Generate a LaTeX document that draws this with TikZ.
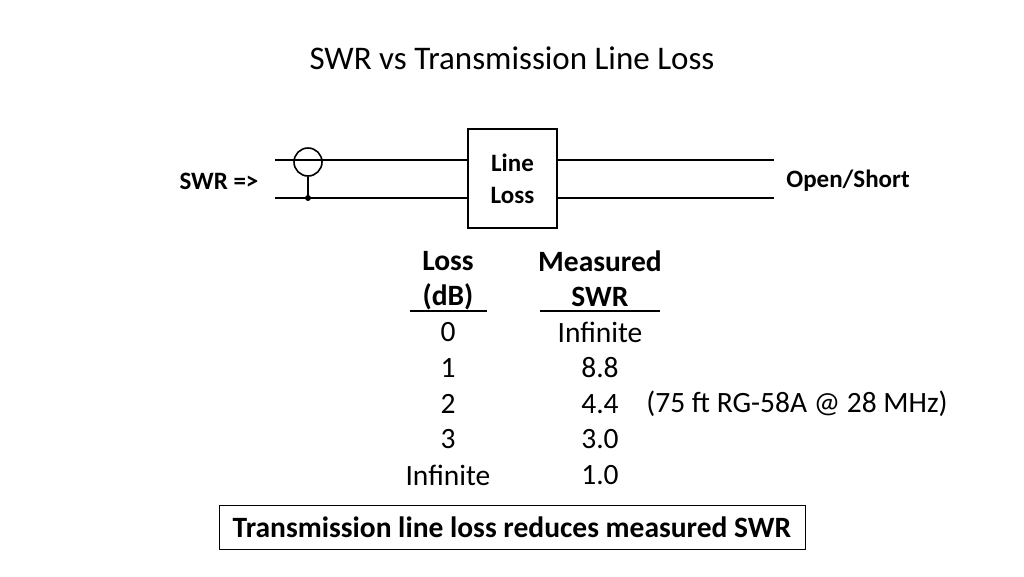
\documentclass[tikz,border=0pt]{standalone}
\usepackage{fontspec}
\setmainfont{Carlito}
\begin{document}
\begin{tikzpicture}[x=1pt,y=-1pt,
  wire/.style={line width=1.6pt},
  txt/.style={inner sep=0pt,font=\fontsize{29.5}{31}\selectfont},
  lbl/.style={inner sep=0pt,font=\bfseries\fontsize{25}{27}\selectfont},
  hd/.style={inner sep=0pt,font=\bfseries\fontsize{29.5}{31}\selectfont}]
\useasboundingbox (0,0) rectangle (1024,576);
\node[inner sep=0pt,font=\fontsize{33}{35}\selectfont] (title) at (512,58) {SWR vs Transmission Line Loss};
\node[draw,line width=1.6pt,minimum width=89pt,minimum height=99pt,inner sep=0pt,align=center,
  font=\bfseries\fontsize{25}{32}\selectfont] (box) at (512.5,178.5) {Line\\Loss};
\coordinate (tl) at (275,160); \coordinate (bl) at (275,198);
\coordinate (tr) at (774,160); \coordinate (br) at (774,198);
\draw[wire] (tl) -- (box.west |- tl);
\draw[wire] (bl) -- (box.west |- bl);
\draw[wire] (box.east |- tr) -- (tr);
\draw[wire] (box.east |- br) -- (br);
\node[draw,circle,line width=1.6pt,minimum size=28pt,inner sep=0pt] (meter) at (308,162) {};
\coordinate (dot) at (308,198);
\draw[wire] (meter.south) -- (dot);
\fill (dot) circle (3pt);
\node[lbl] (swr) at (219,181) {SWR =>};
\node[lbl] (os) at (848,181) {Open/Short};
\node[hd] (h1) at (448,261) {Loss};
\node[hd] (h2) at (448,297) {(dB)};
\node[hd] (h3) at (600,261) {Measured};
\node[hd] (h4) at (600,297) {SWR};
\coordinate (u1a) at (410,311); \coordinate (u1b) at (487,311);
\coordinate (u2a) at (540,311); \coordinate (u2b) at (660,311);
\draw[line width=1.2pt] (u1a) -- (u1b);
\draw[line width=1.2pt] (u2a) -- (u2b);
\node[txt] (a0) at (448,332) {0};
\node[txt] (a1) at (448,368) {1};
\node[txt] (a2) at (448,404) {2};
\node[txt] (a3) at (448,439) {3};
\node[txt] (a4) at (448,475) {Infinite};
\node[txt] (b0) at (600,332) {Infinite};
\node[txt] (b1) at (600,368) {8.8};
\node[txt] (b2) at (600,404) {4.4};
\node[txt] (b3) at (600,439) {3.0};
\node[txt] (b4) at (600,475) {1.0};
\node[txt] (note) at (797,404) {(75 ft RG-58A @ 28 MHz)};
\node[draw,line width=0.8pt,minimum width=586pt,minimum height=44pt,inner sep=0pt,
  font=\bfseries\fontsize{29.5}{31}\selectfont] (concl) at (512,527) {Transmission line loss reduces measured SWR};
\end{tikzpicture}
\end{document}
